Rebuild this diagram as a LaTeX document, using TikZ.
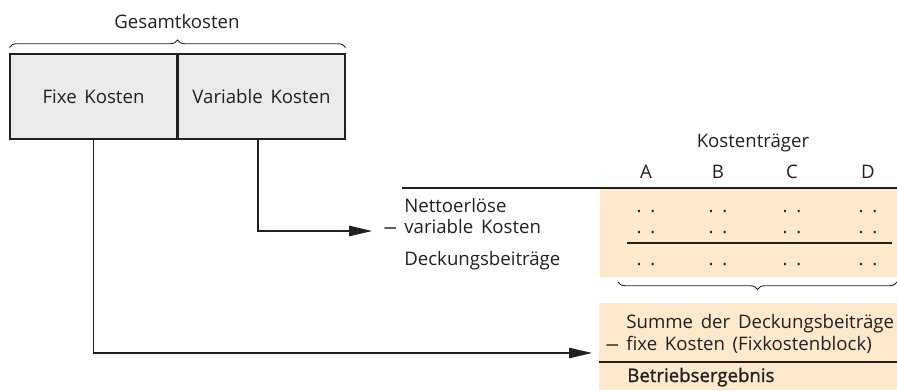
\documentclass[tikz,border=0pt]{standalone}
\usepackage{fontspec}
\setmainfont{Open Sans}[WordSpace=1.6]
\newfontfamily\halbfett{Open Sans}[FakeBold=1.2,WordSpace=1.6]
\usetikzlibrary{positioning,calc,arrows.meta,decorations.pathreplacing}
\definecolor{boxgray}{RGB}{235,235,235}
\definecolor{peach}{RGB}{253,234,204}
\definecolor{ink}{RGB}{35,31,32}
\tikzset{kbox/.style={draw,fill=boxgray,line width=0.6pt,minimum width=3.34cm,minimum height=1.7cm,inner sep=0pt},
         post/.style={-{Triangle[length=4.6mm,width=2.1mm]},line width=0.6pt},
         brc/.style={decorate,decoration={brace,amplitude=0.15cm},line width=0.5pt},
         rule/.style={line width=0.6pt},
         lbl/.style={anchor=base west,inner sep=0pt},
         dts/.style={anchor=base,inner sep=0pt}
}
\newcommand{\dd}{.\kern5pt.}
\newcommand{\mdash}{\scalebox{1.5}[1]{–}}

\begin{document}
\begin{tikzpicture}[x=0.02cm,y=0.02cm,font=\fontsize{10.6}{12}\selectfont,color=ink]
  \useasboundingbox (0,0) rectangle (897,390);
  % Kostenblock
  \node (gesamt) at (177,368) {Gesamtkosten};
  \node[kbox] (fix) at (93.5,293.5) {Fixe Kosten};
  \node[kbox, right=0pt of fix] (var) {Variable Kosten};
  \draw[brc] ($(fix.north west)+(0,6)$) -- ($(var.north east)+(0,6)$);

  % Tabelle
  \fill[peach] (600,113) rectangle (897,202);
  \draw[rule] (402,202) -- (897,202);
  \draw[rule] (627,147) -- (892,147);
  \node (ktr) at (753,247) {Kostenträger};
  \foreach \c/\x in {A/646,B/718,C/792,D/868}{
    \node at (\x,218) {\c};
    \node[dts] at (\x,178) {\dd};
    \node[dts] at (\x,157) {\dd};
    \node[dts] at (\x,125) {\dd};
  }
  \node[lbl] (nett) at (404,178) {Nettoerlöse};
  \node[lbl] (minus1) at (383,157) {\mdash};
  \node[lbl] (varK) at (404,157) {variable Kosten};
  \node[lbl] (db) at (404,125) {Deckungsbeiträge};
  \draw[brc] (897,108) -- (618,108);

  % Ergebnis
  \fill[peach] (599,0) rectangle (897,87);
  \draw[rule] (599,28) -- (897,28);
  \node[lbl] (summe) at (626,62) {Summe der Deckungsbeiträge};
  \node[lbl] (minus2) at (605,40) {\mdash};
  \node[lbl] (fixK) at (626,40) {fixe Kosten (Fixkostenblock)};
  \node[lbl] (be) at (627,8) {\halbfett Betriebsergebnis};

  % Verbindungen
  \coordinate (tipvar) at (372,159);
  \coordinate (tipfix) at (592,37);
  \draw[post] (fix.south) |- (tipfix);
  \draw[post] ($(var.south)+(-3.5,0)$) |- (tipvar);
\end{tikzpicture}
\end{document}
